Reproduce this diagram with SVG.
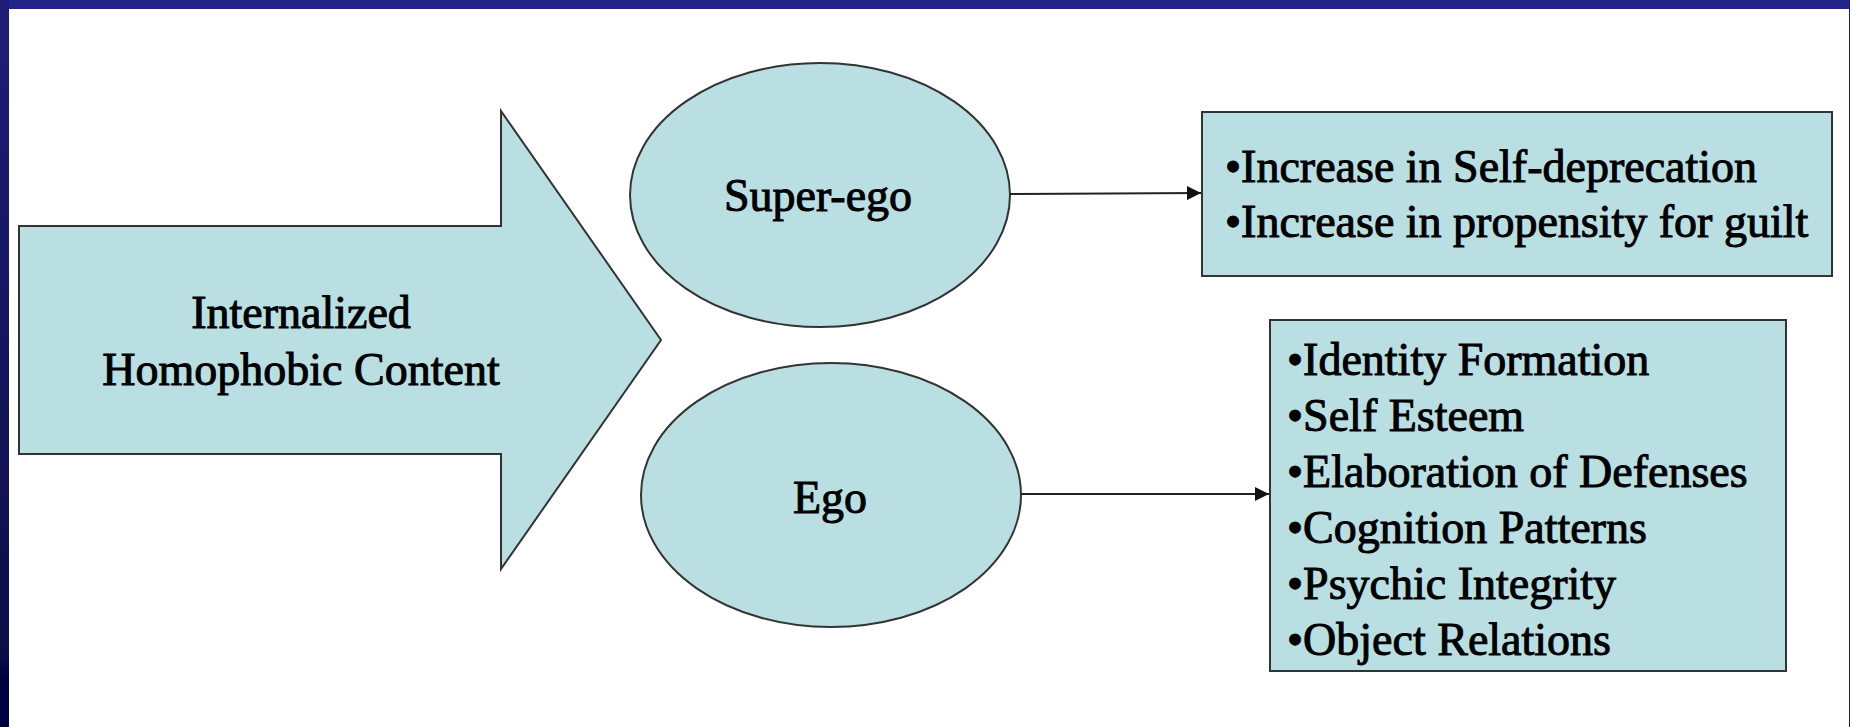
<svg xmlns="http://www.w3.org/2000/svg" width="1850" height="727" viewBox="0 0 1850 727">
  <defs>
    <linearGradient id="leftBand" x1="0" y1="0" x2="0" y2="1">
      <stop offset="0" stop-color="#1e1e78"/>
      <stop offset="0.9" stop-color="#0d0d48"/>
      <stop offset="0.93" stop-color="#000040"/>
      <stop offset="1" stop-color="#000040"/>
    </linearGradient>
    <marker id="arrow" viewBox="0 0 14 14" refX="14" refY="7" markerWidth="14" markerHeight="14" markerUnits="userSpaceOnUse" orient="auto">
      <path d="M0,0 L14,7 L0,14 Z" fill="#111"/>
    </marker>
  </defs>
  <style>
    .shape { fill: #b9dfe3; stroke: #333; stroke-width: 2; }
    .txt { font-family: "Liberation Serif", "Times New Roman", serif; font-size: 46px; fill: #000; stroke: #000; stroke-width: 1; }
    .mid { text-anchor: middle; }
    .conn { stroke: #222; stroke-width: 2; fill: none; }
  </style>
  <rect x="0" y="0" width="1850" height="727" fill="#ffffff"/>
  <rect x="0" y="0" width="1850" height="9" fill="#23238a"/>
  <rect x="0" y="0" width="9" height="727" fill="url(#leftBand)"/>
  <rect x="1849" y="0" width="1" height="727" fill="#1a1a6e"/>

  <g id="node-internalized">
    <path class="shape" d="M19,226 L501,226 L501,111 L661,340 L501,569 L501,454 L19,454 Z"/>
    <text class="txt mid" x="301" y="328">Internalized</text>
    <text class="txt mid" x="301" y="385">Homophobic Content</text>
  </g>

  <g id="node-superego">
    <ellipse class="shape" cx="820" cy="195" rx="190" ry="132"/>
    <text class="txt mid" x="818" y="211">Super-ego</text>
  </g>

  <g id="node-ego">
    <ellipse class="shape" cx="831" cy="495" rx="190" ry="132"/>
    <text class="txt mid" x="830" y="513">Ego</text>
  </g>

  <g id="node-superego-effects">
    <rect class="shape" x="1202" y="112" width="630" height="164"/>
    <text class="txt" x="1225" y="182">•Increase in Self-deprecation</text>
    <text class="txt" x="1225" y="237">•Increase in propensity for guilt</text>
  </g>

  <g id="node-ego-effects">
    <rect class="shape" x="1270" y="320" width="516" height="351"/>
    <text class="txt" x="1287" y="375">•Identity Formation</text>
    <text class="txt" x="1287" y="431">•Self Esteem</text>
    <text class="txt" x="1287" y="487">•Elaboration of Defenses</text>
    <text class="txt" x="1287" y="543">•Cognition Patterns</text>
    <text class="txt" x="1287" y="599">•Psychic Integrity</text>
    <text class="txt" x="1287" y="655">•Object Relations</text>
  </g>

  <g id="connectors">
    <line class="conn" x1="1010" y1="194" x2="1201" y2="193" marker-end="url(#arrow)"/>
    <line class="conn" x1="1021" y1="494" x2="1269" y2="494" marker-end="url(#arrow)"/>
  </g>
</svg>
